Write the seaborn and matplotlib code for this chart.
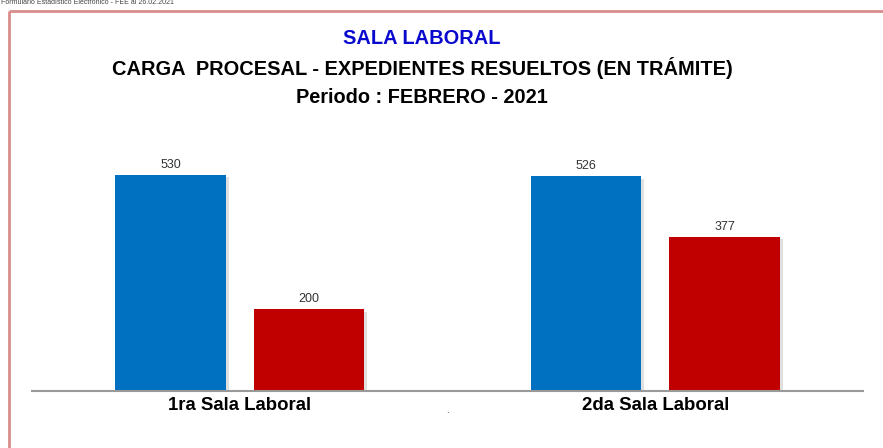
import pandas as pd
import matplotlib.pyplot as plt
import matplotlib.patheffects as pe
from matplotlib.lines import Line2D
import seaborn as sns

# data
salas = ["1ra Sala Laboral", "2da Sala Laboral"]
series = ["Resueltos", "En trámite"]
resueltos = [530, 526]
en_tramite = [200, 377]
colors = ["#0070C0", "#C00000"]

df = pd.DataFrame({
    "sala": salas * 2,
    "serie": [series[0]] * 2 + [series[1]] * 2,
    "valor": resueltos + en_tramite,
})

W, H = 883, 448
sns.set_theme(style="white")
plt.rcParams["font.family"] = ["Liberation Sans", "DejaVu Sans"]

fig = plt.figure(figsize=(W / 100, H / 100), dpi=100)
ax = fig.add_axes([32 / W, (H - 391) / H, (863 - 32) / W, (391 - 130) / H])

sns.barplot(data=df, x="sala", y="valor", hue="serie", order=salas,
            hue_order=series, palette=colors, width=0.667, gap=0.2,
            saturation=1, legend=False, ax=ax)

# soft drop shadow like the office chart
shadow = [pe.SimplePatchShadow(offset=(2, -1.5), shadow_rgbFace="#999999", alpha=0.3),
          pe.Normal()]
for bar in ax.patches:
    bar.set_path_effects(shadow)
    bar.set_edgecolor("none")

for cont in ax.containers:
    ax.bar_label(cont, padding=3, fontsize=9, color="#333333")

ax.set_xlim(-0.5, 1.5)
ax.set_ylim(0, 640)
ax.set_xlabel("")
ax.set_ylabel("")
ax.set_yticks([])
ax.tick_params(axis="x", length=0, pad=4)
for lab in ax.get_xticklabels():
    lab.set_fontsize(13.4)
    lab.set_fontweight("bold")
    lab.set_color("black")
for side in ["top", "right", "left"]:
    ax.spines[side].set_visible(False)
ax.spines["bottom"].set_color("#999999")
ax.spines["bottom"].set_linewidth(1.5)

# titles
fig.text(422 / W, 1 - 38 / H, "SALA LABORAL", ha="center", va="center",
         fontsize=14.4, fontweight="bold", color="#0A0ACF")
fig.text(422 / W, 1 - 68 / H, "CARGA  PROCESAL - EXPEDIENTES RESUELTOS (EN TRÁMITE)",
         ha="center", va="center", fontsize=14.4, fontweight="bold", color="black")
fig.text(422 / W, 1 - 97 / H, "Periodo : FEBRERO - 2021", ha="center", va="center",
         fontsize=14.4, fontweight="bold", color="black")

# small source note in the top-left corner
fig.text(1 / W, 1 - 3 / H, "Formulario Estadístico Electrónico - FEE al 26.02.2021",
         ha="left", va="center", fontsize=5, color="#444444")
fig.text(447 / W, 1 - 410 / H, ".", ha="center", va="center", fontsize=7, color="#333333")

# red frame of the page
frame = dict(color="#D98C8C", linewidth=2, solid_capstyle="butt")
fig.add_artist(Line2D([9 / W, 1], [1 - 11 / H, 1 - 11 / H], transform=fig.transFigure, **frame))
fig.add_artist(Line2D([9 / W, 9 / W], [0, 1 - 11 / H], transform=fig.transFigure, **frame))

fig.savefig("out.png", dpi=100)
